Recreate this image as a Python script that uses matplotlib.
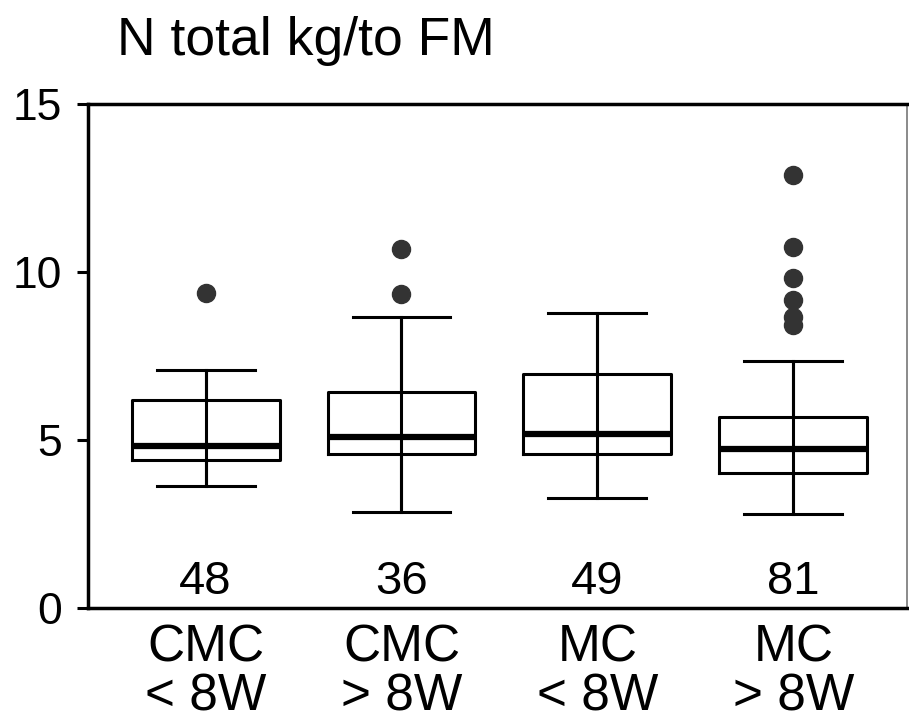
import matplotlib
matplotlib.use("Agg")
import matplotlib.pyplot as plt

plt.rcParams['font.family'] = ['Liberation Sans', 'DejaVu Sans']

# Gruppen und Stichprobengroessen
groups = ['CMC\n< 8W', 'CMC\n> 8W', 'MC\n< 8W', 'MC\n> 8W']
counts = [48, 36, 49, 81]

# Boxplot-Kennwerte
whislo = [3.64, 2.85, 3.28, 2.80]
q1 = [4.40, 4.58, 4.58, 4.02]
med = [4.83, 5.09, 5.19, 4.72]
q3 = [6.18, 6.42, 6.95, 5.67]
whishi = [7.08, 8.66, 8.79, 7.35]
fliers = [[9.37], [10.67, 9.34], [], [12.89, 10.73, 9.83, 9.16, 8.65, 8.42]]

stats = []
for i in range(len(groups)):
    stats.append(dict(whislo=whislo[i], q1=q1[i], med=med[i], q3=q3[i],
                      whishi=whishi[i], fliers=fliers[i]))

fig = plt.figure(figsize=(9.09, 7.21), dpi=100)
ax = fig.add_axes([0.0968, 0.1567, 0.901, 0.6991])

pos = list(range(1, len(groups) + 1))
ax.bxp(stats, positions=pos, widths=0.755, showfliers=True,
       boxprops=dict(color='black', linewidth=2.2),
       whiskerprops=dict(color='black', linewidth=2.2),
       capprops=dict(color='black', linewidth=2.2),
       capwidths=0.5,
       medianprops=dict(color='black', linewidth=4.5),
       flierprops=dict(marker='o', markerfacecolor='#333333', markeredgecolor='#333333',
                       markersize=13))
# Whisker-Linie geht durch die Box
ax.vlines(pos, whislo, whishi, color='black', linewidth=2.2)

for p, n in zip(pos, counts):
    ax.text(p, 0.12, str(n), ha='center', va='bottom', fontsize=34)

ax.set_ylim(0, 15)
ax.set_xlim(0.40, 4.58)
ax.set_yticks([0, 5, 10, 15])
ax.set_xticks(pos)
ax.set_xticklabels(groups, fontsize=37, linespacing=1.0)
ax.tick_params(axis='y', labelsize=32, width=2.2, length=8, direction='out', pad=11)
ax.tick_params(axis='x', length=0, pad=11)

for s in ['left', 'top', 'bottom']:
    ax.spines[s].set_linewidth(2.5)
ax.spines['right'].set_linewidth(1.2)
ax.spines['right'].set_color('#777777')

fig.text(0.129, 0.924, 'N total kg/to FM', fontsize=38.5, ha='left', va='baseline')

fig.savefig('out.png', dpi=100)
